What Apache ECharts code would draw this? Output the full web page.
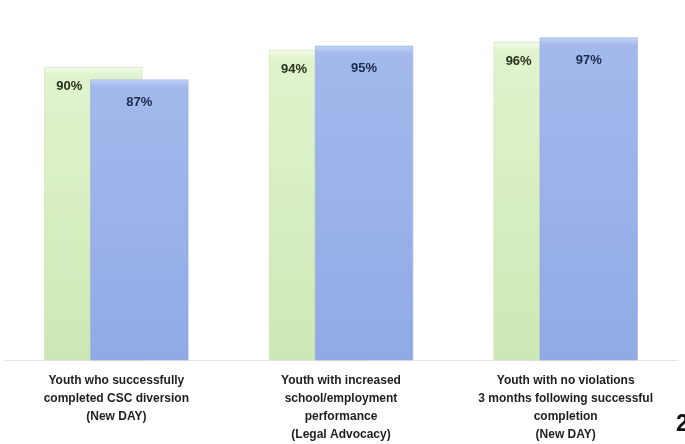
<!DOCTYPE html>
<html>
<head>
<meta charset="utf-8">
<script src="https://cdn.jsdelivr.net/npm/echarts@6/dist/echarts.min.js"></script>
<style>
html,body{margin:0;padding:0;background:#fff;}
#chart{width:685px;height:444px;}
</style>
</head>
<body>
<div id="chart"></div>
<script>
const categories = [
  "Youth who successfully\ncompleted CSC diversion\n(New DAY)",
  "Youth with increased\nschool/employment\nperformance\n(Legal Advocacy)",
  "Youth with no violations\n3 months following successful\ncompletion\n(New DAY)"
];
const seriesGreen = [90, 94, 96];
const seriesBlue = [87, 95, 97];
const pageNumber = "2";

const chart = echarts.init(document.getElementById('chart'));
chart.setOption({
  animation: false,
  backgroundColor: '#ffffff',
  title: {
    text: pageNumber,
    left: 671, top: 408,
    textStyle: { fontFamily: 'Liberation Sans, Arial, sans-serif', fontSize: 23, fontWeight: 'bold', color: '#111' }
  },
  grid: { left: 4, right: 7, top: 29, bottom: 79, containLabel: false },
  xAxis: {
    type: 'category',
    data: categories,
    axisTick: { show: false },
    axisLine: { show: true, lineStyle: { color: '#e6e6e6', width: 1 } },
    axisLabel: {
      interval: 0,
      margin: 12,
      fontFamily: 'Liberation Sans, Arial, sans-serif',
      fontSize: 12,
      fontWeight: 'bold',
      lineHeight: 18,
      color: '#1e1e1e'
    }
  },
  yAxis: {
    type: 'value',
    min: 20.5,
    max: 99,
    show: false,
    splitLine: { show: false }
  },
  series: [
    {
      type: 'bar',
      data: seriesGreen,
      barWidth: 98,
      barGap: '-53%',
      itemStyle: {
        color: new echarts.graphic.LinearGradient(0, 0, 0, 1, [
          { offset: 0, color: '#f3fbe9' },
          { offset: 0.03, color: '#e0f3cd' },
          { offset: 1, color: '#cde8b4' }
        ]),
        borderColor: '#c3dfa8',
        borderWidth: 0.5
      },
      label: {
        show: true,
        position: 'insideTop',
        offset: [-24, 8],
        formatter: '{c}%',
        fontFamily: 'Liberation Sans, Arial, sans-serif',
        fontSize: 13,
        fontWeight: 'bold',
        color: '#26331c'
      }
    },
    {
      type: 'bar',
      data: seriesBlue,
      barWidth: 98,
      itemStyle: {
        color: new echarts.graphic.LinearGradient(0, 0, 0, 1, [
          { offset: 0, color: '#c4d3f4' },
          { offset: 0.025, color: '#a3b9ed' },
          { offset: 1, color: '#91aae5' }
        ]),
        borderColor: '#8aa2dc',
        borderWidth: 0.5
      },
      label: {
        show: true,
        position: 'insideTop',
        offset: [0, 11],
        formatter: '{c}%',
        fontFamily: 'Liberation Sans, Arial, sans-serif',
        fontSize: 13,
        fontWeight: 'bold',
        color: '#1c2b4c'
      }
    }
  ]
});
</script>
</body>
</html>
